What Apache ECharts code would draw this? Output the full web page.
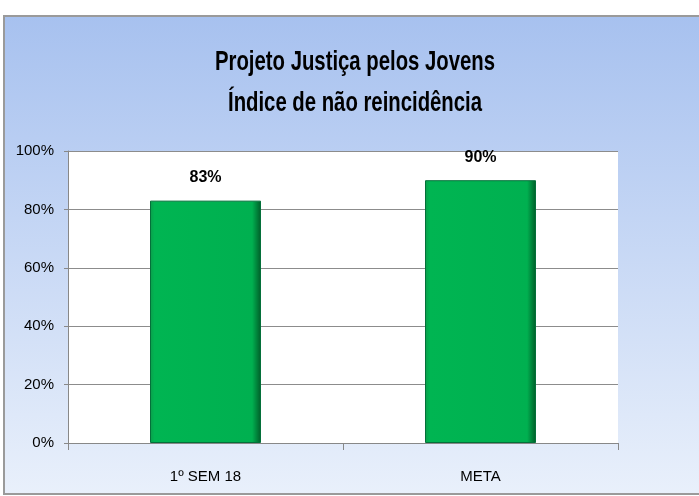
<!DOCTYPE html>
<html>
<head>
<meta charset="utf-8">
<script src="https://cdn.jsdelivr.net/npm/echarts@6/dist/echarts.min.js"></script>
<style>
  html, body { margin: 0; padding: 0; background: #fff; }
  #chart { width: 699px; height: 496px; }
</style>
</head>
<body>
<div id="chart"></div>
<script>
// Data
const categories = ['1º SEM 18', 'META'];
const values = [83, 90];
const yTicks = [0, 20, 40, 60, 80, 100];
const titleLines = ['Projeto Justiça pelos Jovens', 'Índice de não reincidência'];

const FONT = '"Liberation Sans", Arial, sans-serif';
const TITLE_FONT = 'bold 28px ' + FONT;

// squeeze the title to look like the narrow original font
const ctx = document.createElement('canvas').getContext('2d');
ctx.font = TITLE_FONT;
const titleScale = 280 / ctx.measureText(titleLines[0]).width;

const chart = echarts.init(document.getElementById('chart'));

const barFill = new echarts.graphic.LinearGradient(0, 0, 1, 0, [
    { offset: 0, color: '#0c9c4a' },
    { offset: 0.04, color: '#00b552' },
    { offset: 0.92, color: '#00b050' },
    { offset: 1, color: '#005c28' }
]);

chart.setOption({
    animation: false,
    graphic: [
        {
            type: 'rect', z: -10,
            shape: { x: 4, y: 16, width: 700, height: 478 },
            style: {
                fill: new echarts.graphic.LinearGradient(0, 0, 0, 1, [
                    { offset: 0, color: '#a7c1ef' },
                    { offset: 1, color: '#e9f0fb' }
                ]),
                stroke: '#9a9a9a', lineWidth: 2
            }
        },
        {
            type: 'text', x: 355, y: 42, scaleX: titleScale, originX: 0,
            style: {
                text: titleLines.join('\n'),
                font: TITLE_FONT, fill: '#000', lineHeight: 41,
                align: 'center'
            }
        }
    ],
    grid: { left: 68, right: 81, top: 151, bottom: 53, show: true, backgroundColor: '#fff', borderWidth: 0 },
    xAxis: {
        type: 'category', data: categories,
        axisLine: { lineStyle: { color: '#888' } },
        axisTick: { show: true, length: 7, lineStyle: { color: '#888' } },
        axisLabel: { color: '#000', fontFamily: FONT, fontSize: 15, margin: 26 }
    },
    yAxis: {
        type: 'value', min: 0, max: 100, interval: 20,
        axisLine: { show: true, lineStyle: { color: '#888' } },
        axisTick: { show: true, length: 4, lineStyle: { color: '#888' } },
        splitLine: { lineStyle: { color: '#8c8c8c', width: 1 } },
        axisLabel: {
            color: '#000', fontFamily: FONT, fontSize: 15, margin: 14,
            formatter: v => yTicks.includes(v) ? v + '%' : ''
        }
    },
    series: [{
        type: 'bar', data: values, barWidth: 111,
        itemStyle: { color: barFill, borderColor: '#04703a', borderWidth: 1 },
        label: {
            show: true, position: 'top', distance: 15,
            formatter: p => p.value + '%',
            color: '#000', fontFamily: FONT, fontWeight: 'bold', fontSize: 16
        }
    }]
});
</script>
</body>
</html>
